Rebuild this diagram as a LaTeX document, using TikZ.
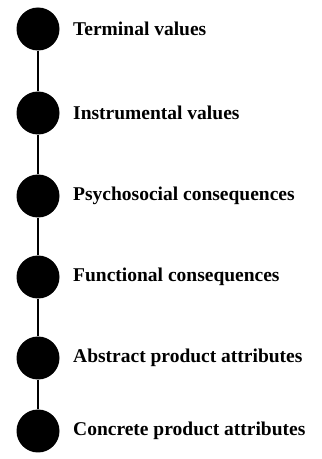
\documentclass[tikz,border=0pt]{standalone}
\usepackage{fontspec}
\setmainfont{Liberation Serif}
\begin{document}
\begin{tikzpicture}[x=1pt,y=1pt,
  dot/.style={circle,fill=black,inner sep=0pt,minimum size=43pt},
  lbl/.style={anchor=west,font=\bfseries\fontsize{19.5}{22}\selectfont,inner sep=0pt},
  link/.style={line width=1.6pt}]
\useasboundingbox (0,0) rectangle (322,459);
\node[dot] (d1) at (38,430) {};
\node[dot] (d2) at (38,346) {};
\node[dot] (d3) at (38,263) {};
\node[dot] (d4) at (38,182) {};
\node[dot] (d5) at (38,101) {};
\node[dot] (d6) at (38,28) {};
\draw[link] (d1) -- (d2);
\draw[link] (d2) -- (d3);
\draw[link] (d3) -- (d4);
\draw[link] (d4) -- (d5);
\draw[link] (d5) -- (d6);
\node[lbl] (t1) at (73,430) {Terminal values};
\node[lbl] (t2) at (73,346) {Instrumental values};
\node[lbl] (t3) at (73,263) {Psychosocial consequences};
\node[lbl] (t4) at (73,182) {Functional consequences};
\node[lbl] (t5) at (73,101) {Abstract product attributes};
\node[lbl] (t6) at (73,28) {Concrete product attributes};
\end{tikzpicture}
\end{document}
